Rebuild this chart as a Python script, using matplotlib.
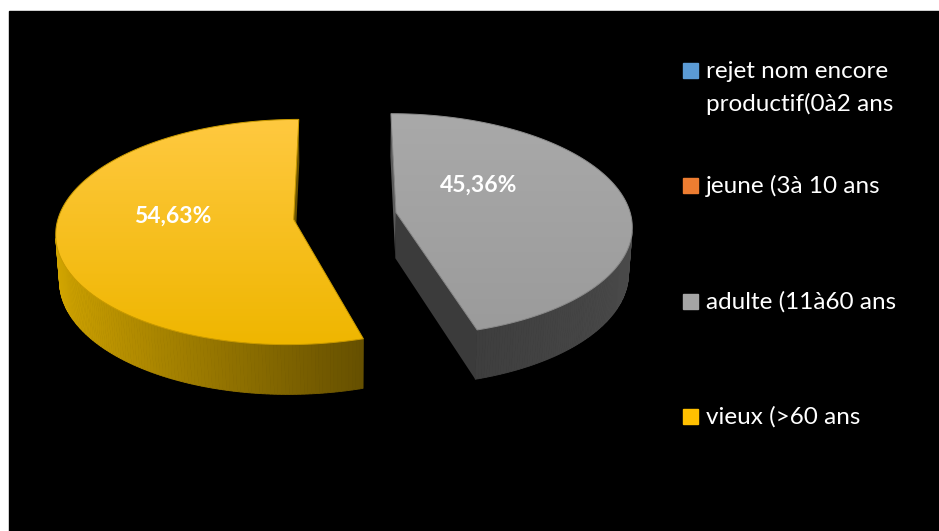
import numpy as np
import matplotlib
matplotlib.use("Agg")
import matplotlib.pyplot as plt
from matplotlib.patches import Polygon, Rectangle
from matplotlib.colors import to_rgb, LinearSegmentedColormap

# ---- data -------------------------------------------------------------
categories = ["rejet nom encore\nproductif(0à2 ans", "jeune (3à 10 ans",
              "adulte (11à60 ans", "vieux (>60 ans"]
shares = [0.0, 0.0, 45.36, 54.63]
value_labels = ["", "", "45,36%", "54,63%"]

# ---- style ------------------------------------------------------------
legend_colors = ["#5B9BD5", "#ED7D31", "#A5A5A5", "#FFC000"]
top_grad = {2: ("#A9A9A9", "#9B9B9B"), 3: ("#FFC940", "#EFB600")}
side_grad = {2: ("#4A4A4A", "#3E3E3E"), 3: ("#D2A500", "#665000")}
cut_color = {2: ("#5A5A5A", "#3B3B3B"), 3: ("#D9AA00", "#6A5300")}
edge_color = {2: "#8A8A8A", 3: "#C99A00"}
label_polar = {2: (0.45, 55.0), 3: (0.515, 273.6)}

W, H = 939, 531
TILT = np.arcsin(0.47)
DIST = 8.0
THICK = 0.224
EXPLODE = 0.22
PX = 235.0
CX, CY = 345.0, 216.0

fig = plt.figure(figsize=(W / 100, H / 100), dpi=100)
fig.patch.set_facecolor("white")
fig.patches.append(Rectangle((9 / W, 0), 1 - 9 / W, 1 - 11 / H,
                             transform=fig.transFigure, color="black", zorder=-10))

ax = fig.add_axes([0, 0, 1, 1])
ax.set_xlim(-CX / PX, (W - CX) / PX)
ax.set_ylim(-(H - CY) / PX, CY / PX)
ax.axis("off")
ax.patch.set_alpha(0)

sin_t, cos_t = np.sin(TILT), np.cos(TILT)
camera = np.array([0.0, -DIST * cos_t, DIST * sin_t])


def project(X, Y, Z):
    X, Y, Z = np.broadcast_arrays(np.asarray(X, float), np.asarray(Y, float),
                                  np.asarray(Z, float))
    v = Y * sin_t + Z * cos_t
    d = Y * cos_t - Z * sin_t
    k = DIST / (DIST + d)
    return X * k, v * k


def mix(c0, c1, t):
    a, b = np.array(to_rgb(c0)), np.array(to_rgb(c1))
    return tuple(np.clip(a + (b - a) * t, 0, 1))


def visible(normal, point):
    return np.dot(normal, camera - point) > 0


total = sum(shares)
start = 0.0
for i, val in enumerate(shares):
    frac = val / total
    th0, th1 = start, start + frac * 2 * np.pi
    start = th1
    if frac <= 0:
        continue
    mid = 0.5 * (th0 + th1)
    ox, oy = EXPLODE * np.sin(mid), EXPLODE * np.cos(mid)
    th = np.linspace(th0, th1, 240)
    rim_x, rim_y = ox + np.sin(th), oy + np.cos(th)

    # radial cut faces
    for ang, sign in ((th0, -1), (th1, 1)):
        n = sign * np.array([np.cos(ang), -np.sin(ang), 0.0])
        p = np.array([ox + 0.5 * np.sin(ang), oy + 0.5 * np.cos(ang), 0.0])
        if not visible(n, p):
            continue
        px = np.array([ox, ox + np.sin(ang), ox + np.sin(ang), ox])
        py = np.array([oy, oy + np.cos(ang), oy + np.cos(ang), oy])
        pz = np.array([0, 0, -THICK, -THICK])
        u, v = project(px, py, pz)
        c0, c1 = cut_color[i]
        ax.add_patch(Polygon(np.column_stack([u, v]), closed=True,
                             facecolor=c1 if sign > 0 else c0,
                             edgecolor="none", zorder=2))

    # outer rim, drawn as thin strips shaded from left to right
    vis = []
    for j in range(len(th) - 1):
        a = 0.5 * (th[j] + th[j + 1])
        n = np.array([np.sin(a), np.cos(a), 0.0])
        p = np.array([ox + np.sin(a), oy + np.cos(a), 0.0])
        if visible(n, p):
            vis.append(j)
    if vis:
        s_vals = np.sin(0.5 * (th[vis] + th[np.array(vis) + 1]))
        s_min, s_max = s_vals.min(), s_vals.max()
        c_left, c_right = side_grad[i]
        for j, s in zip(vis, s_vals):
            xs = [rim_x[j], rim_x[j + 1], rim_x[j + 1], rim_x[j]]
            ys = [rim_y[j], rim_y[j + 1], rim_y[j + 1], rim_y[j]]
            zs = [0, 0, -THICK, -THICK]
            u, v = project(xs, ys, zs)
            t = (s - s_min) / max(s_max - s_min, 1e-9)
            col = mix(c_left, c_right, t) if i == 3 else mix(c_right, c_left, t)
            ax.add_patch(Polygon(np.column_stack([u, v]), closed=True,
                                 facecolor=col, edgecolor=col, lw=0.6, zorder=2))

    # top face with vertical gradient
    tx = np.concatenate([[ox], rim_x])
    ty = np.concatenate([[oy], rim_y])
    u, v = project(tx, ty, np.zeros_like(tx))
    top = Polygon(np.column_stack([u, v]), closed=True, facecolor="none",
                  edgecolor=edge_color[i], lw=0.7, zorder=4)
    ax.add_patch(top)
    cmap = LinearSegmentedColormap.from_list("g", [top_grad[i][1], top_grad[i][0]])
    grad = np.linspace(0, 1, 256).reshape(-1, 1)
    im = ax.imshow(grad, cmap=cmap, origin="lower", aspect="auto",
                   extent=(u.min(), u.max(), v.min(), v.max()), zorder=3)
    im.set_clip_path(top)

    # value label
    r, ang = label_polar[i]
    ang = np.radians(ang)
    lu, lv = project(ox + r * np.sin(ang), oy + r * np.cos(ang), 0.0)
    ax.text(float(lu), float(lv), value_labels[i], color="white", fontsize=16.5,
            fontweight="bold", family="Lato", ha="center", va="center", zorder=6)

# ---- legend -----------------------------------------------------------
leg_rows = [70, 186, 301, 416]
for name, col, row in zip(categories, legend_colors, leg_rows):
    fig.patches.append(Rectangle((683 / W, 1 - (row + 7.5) / H), 15 / W, 15 / H,
                                 transform=fig.transFigure, color=col, zorder=5))
    for k, line in enumerate(name.split("\n")):
        base = row + 7.5 + 33 * k
        fig.text(706 / W, 1 - base / H, line, color="white", fontsize=17.5,
                 family="Lato", ha="left", va="baseline")

fig.savefig("out.png", dpi=100, facecolor=fig.get_facecolor())
